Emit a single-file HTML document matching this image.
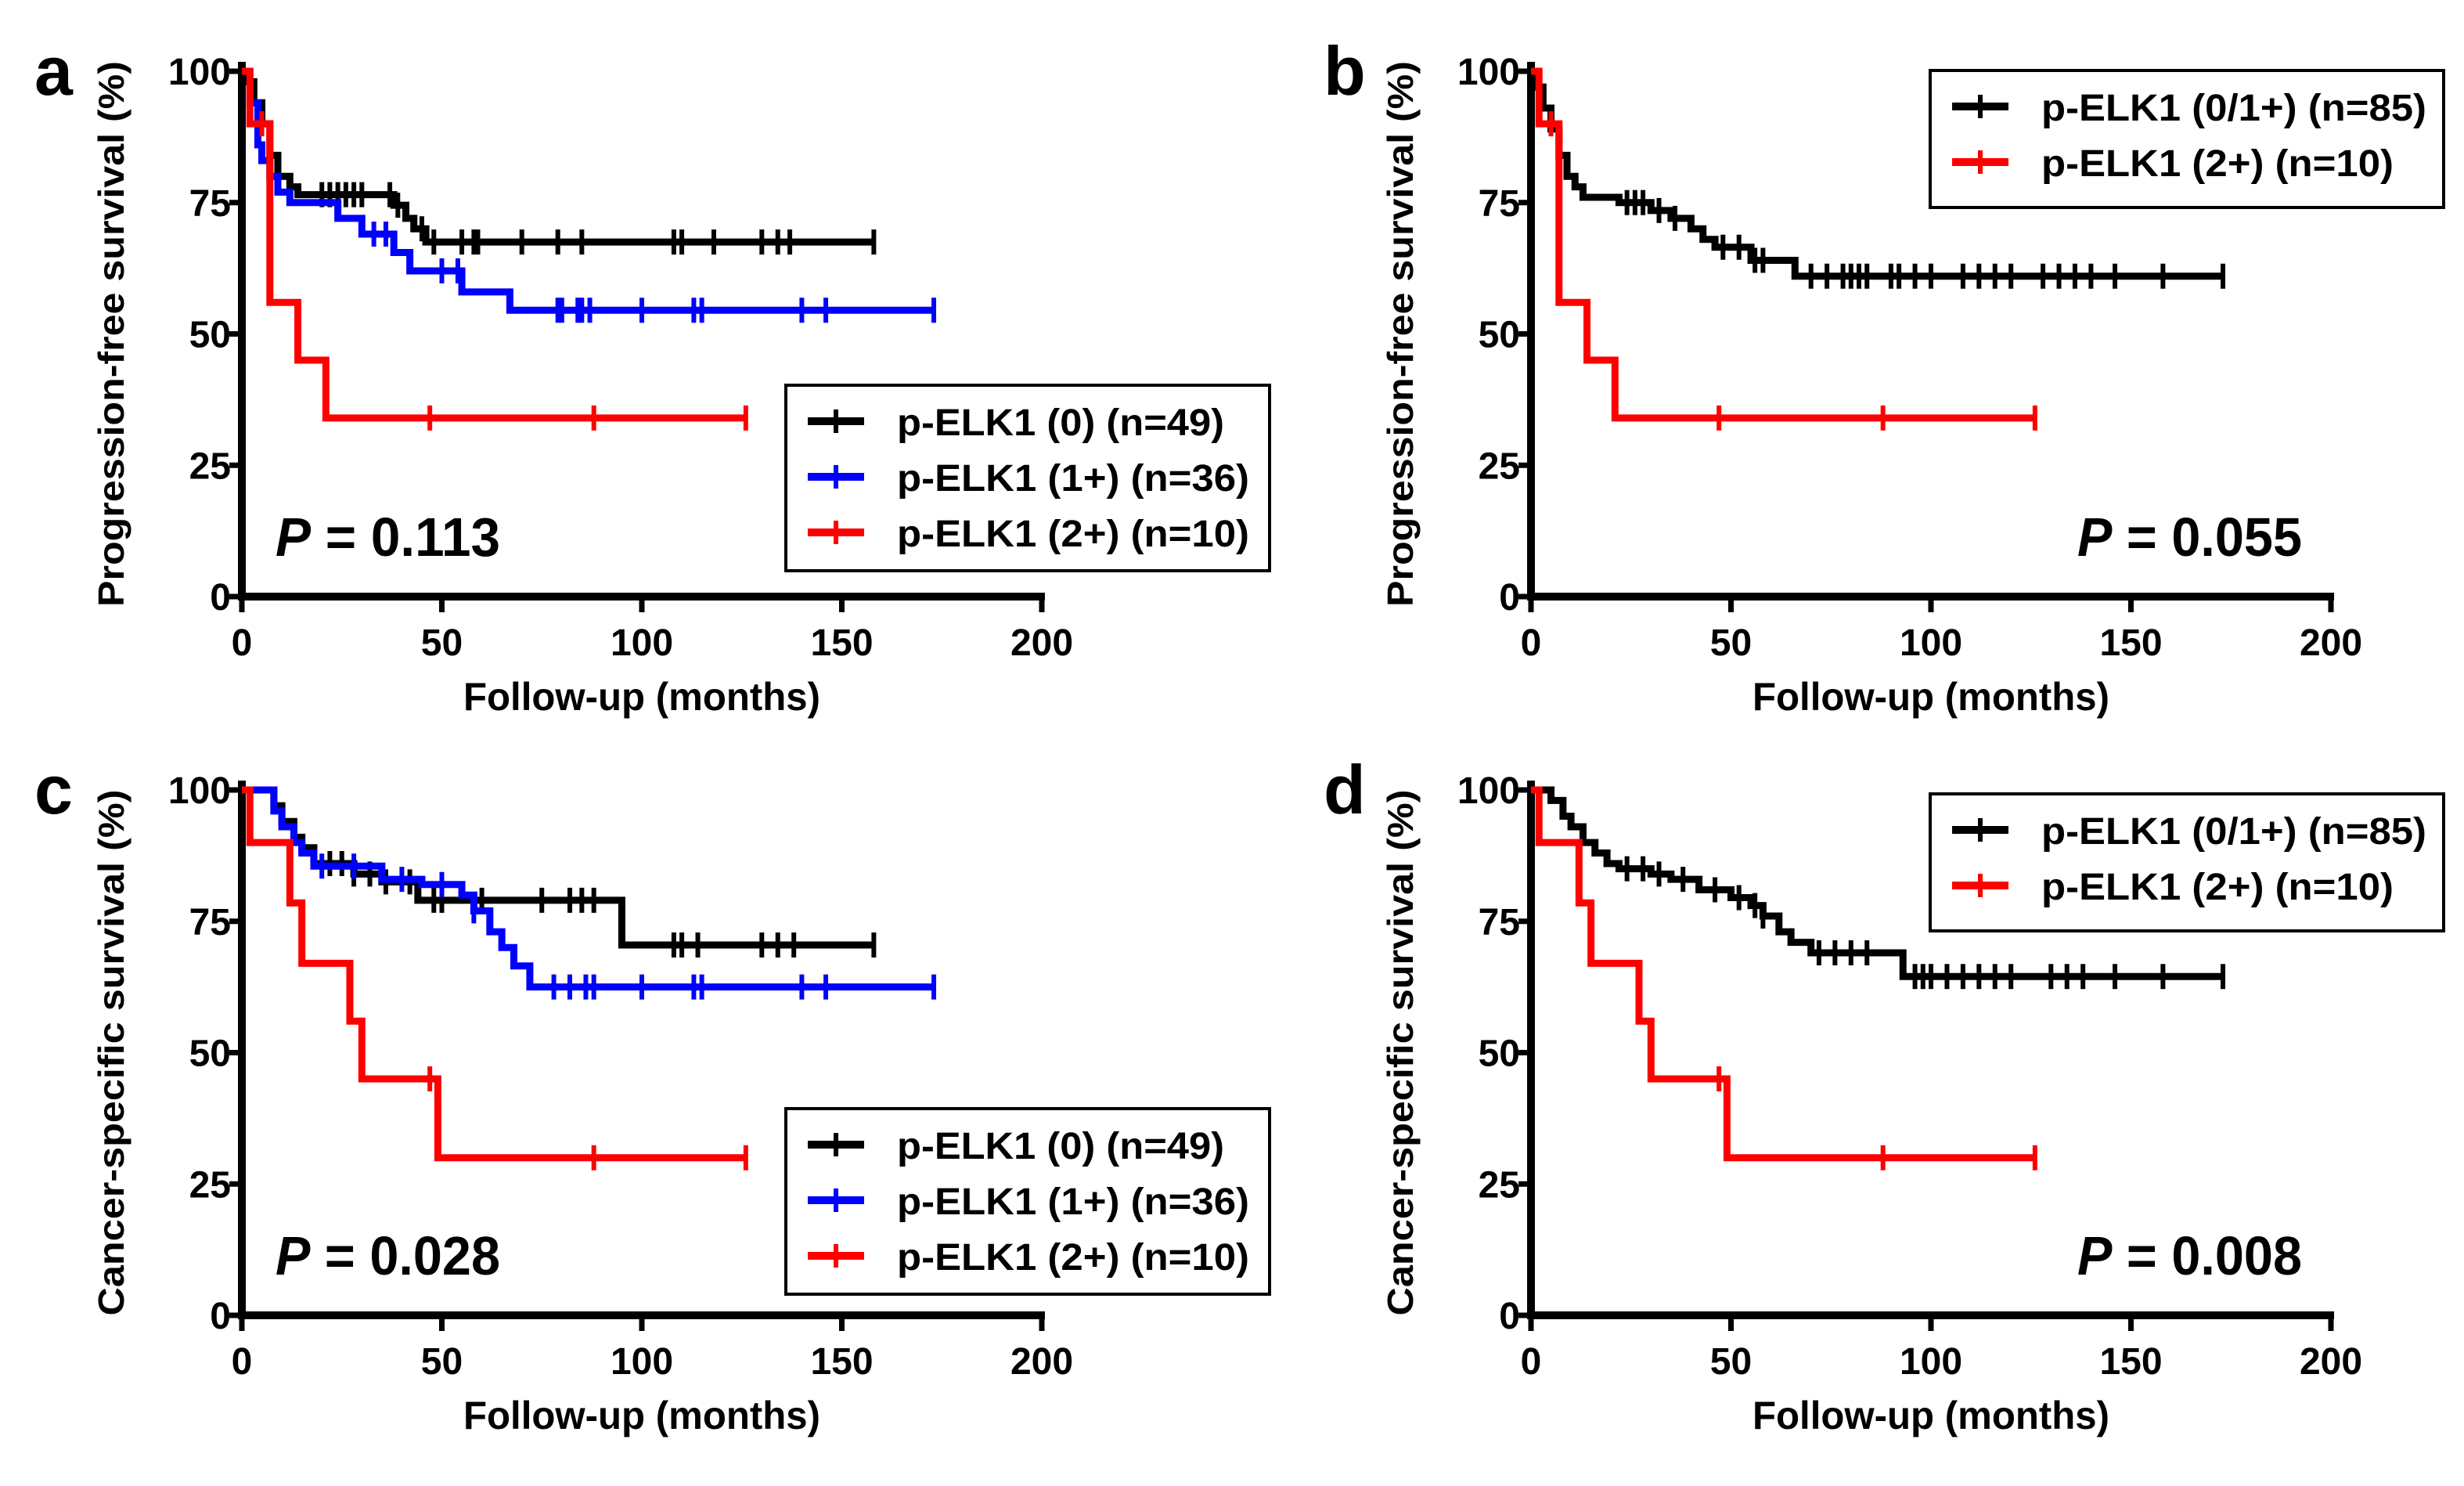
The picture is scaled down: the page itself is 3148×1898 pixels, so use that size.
<!DOCTYPE html>
<html><head><meta charset="utf-8"><style>
html,body{margin:0;padding:0;background:#fff}
svg{display:block}
text{font-family:"Liberation Sans Narrow","Liberation Sans",Arial,sans-serif;font-weight:bold;fill:#000}
</style></head><body>
<svg id="fig" width="3148" height="1898" viewBox="0 0 3148 1898" xmlns="http://www.w3.org/2000/svg"></svg>
<script>
// ---- data (months, survival %) ----
const xTicks = [0, 50, 100, 150, 200];
const yTicks = [0, 25, 50, 75, 100];
// Panel a (PFS)
const aBlackT = [0,1,3,5,7,9,12,14,38,41,43,46,158];
const aBlackS = [100,98,94,90,84,80,78,76.5,74.5,72,70,67.5,67.5];
const aBlackC = [20,22,24,26,28,30,37,39,45,48,55,58,59,70,79,85,108,110,118,130,134,137,158];
const aBlueT = [0,2,4,5,7,9,12,24,30,38,42,55,67,173];
const aBlueS = [100,94,86,83,80,77,75,72,69,65.5,62,58,54.5,54.5];
const aBlueC = [33,36,50,54,79,80,84,85,87,100,113,115,140,146,173];
const pfsRedT = [0,2,7,14,21,126];
const pfsRedS = [100,90,56,45,34,34];
const pfsRedC = [5,47,88,126];
// Panel b (PFS combined)
const bBlackT = [0,1,3,5,7,9,11,13,22,30,35,40,43,46,55,66,173];
const bBlackS = [100,97,93,89,84,80,78,76,75,73.5,72,70,68,66.5,64,61,61];
const bBlackC = [24,26,28,32,36,48,52,56,58,70,74,78,80,82,84,90,92,96,100,108,112,116,120,128,132,136,140,146,158,173];
// Panel c (CSS)
const cBlackT = [0,8,10,13,15,18,28,35,44,95,158];
const cBlackS = [100,97,94,91,89,86,84,82.5,79,70.5,70.5];
const cBlackC = [22,25,28,32,36,42,48,50,60,75,82,85,88,108,110,114,130,134,138,158];
const cBlueT = [0,8,10,13,15,18,35,45,55,58,62,65,68,72,173];
const cBlueS = [100,96,93,90,88,85.5,83,82,80,77,73,70,66.5,62.5,62.5];
const cBlueC = [20,28,40,50,58,78,82,86,88,100,113,115,140,146,173];
const cssRedT = [0,2,12,15,27,30,49,126];
const cssRedS = [100,90,78.5,67,56,45,30,30];
const cssRedC = [47,88,126];
// Panel d (CSS combined)
const dBlackT = [0,5,8,10,13,16,19,22,30,35,42,50,55,58,62,65,70,93,173];
const dBlackS = [100,98,95,93,90,88,86,85,84,83,81,79.5,78,76,73,71,69,64.5,64.5];
const dBlackC = [24,28,32,38,46,52,56,58,72,76,80,84,96,98,100,104,108,112,116,120,130,134,138,146,158,173];

const NS = "http://www.w3.org/2000/svg";
const svg = document.getElementById('fig');
function mk(tag, attrs, parent){const e=document.createElementNS(NS,tag);for(const k in attrs)e.setAttribute(k,attrs[k]);(parent||svg).appendChild(e);return e;}

function panel(cfg){
  const g = mk('g',{});
  
  
  const x0=cfg.x0, x1=cfg.x0+1022, y0=cfg.y0, y1=cfg.y0-671;
  const sx = v => x0 + v/200*(x1-x0);
  const sy = v => y0 - v/100*(y0-y1);
  const ax = mk('path',{d:`M${x0} ${y1-12} V${y0} H${x1+4}`,stroke:'#000','stroke-width':10,fill:'none'},g);
  
  
  yTicks.forEach(t=>{
    mk('line',{x1:x0-16,x2:x0,y1:sy(t),y2:sy(t),stroke:'#000','stroke-width':7},g);
    const tx=mk('text',{x:x0-14,y:sy(t)+17,'font-size':48,'text-anchor':'end'},g);
    tx.textContent=t;
    
    
  });
  xTicks.forEach(t=>{
    mk('line',{x1:sx(t),x2:sx(t),y1:y0,y2:y0+20,stroke:'#000','stroke-width':7},g);
    const tx=mk('text',{x:sx(t),y:y0+75,'font-size':48,'text-anchor':'middle'},g);
    tx.textContent=t;
    
    
  });
  const xt=mk('text',{x:(x0+x1)/2,y:y0+145,'font-size':50,'text-anchor':'middle',textLength:456,lengthAdjust:'spacingAndGlyphs'},g);
  xt.textContent='Follow-up (months)';
  
  
  const ycy=(y0+y1)/2, ycx=cfg.x0-167;
  const yt=mk('text',{x:ycx,y:ycy,'font-size':46,'text-anchor':'middle',transform:`rotate(-90 ${ycx} ${ycy}) translate(0 16)`,textLength:cfg.ylen,lengthAdjust:'spacingAndGlyphs'},g);
  yt.textContent=cfg.ytitle;
  
  
  const lt=mk('text',{x:cfg.x0-265,y:y1+30,'font-size':88},g);
  lt.textContent=cfg.letter;
  
  
  cfg.series.forEach(s=>{
    let d=`M${sx(s.t[0])} ${sy(s.s[0])}`;
    for(let i=1;i<s.t.length;i++){d+=` H${sx(s.t[i])} V${sy(s.s[i])}`;}
    const p=mk('path',{d:d,stroke:s.col,'stroke-width':9,fill:'none'},g);
    
    
    s.c.forEach(c=>{
      let v=s.s[0];
      for(let i=0;i<s.t.length;i++){if(s.t[i]<=c)v=s.s[i];}
      const m=mk('line',{x1:sx(c),x2:sx(c),y1:sy(v)-16,y2:sy(v)+16,stroke:s.col,'stroke-width':6},g);
      
      
    });
  });
  const L=cfg.legend;
  const lb=mk('rect',{x:L.x,y:L.y,width:L.w,height:L.h,fill:'#fff',stroke:'#000','stroke-width':4},g);
  
  
  cfg.series.forEach((s,i)=>{
    const ry=L.y+46+i*71;
    const ln=mk('line',{x1:L.x+28,x2:L.x+100,y1:ry,y2:ry,stroke:s.col,'stroke-width':10},g);
    
    
    mk('line',{x1:L.x+64,x2:L.x+64,y1:ry-15,y2:ry+15,stroke:s.col,'stroke-width':6},g);
    const t=mk('text',{x:L.x+142,y:ry+18,'font-size':48,textLength:s.lw,lengthAdjust:'spacingAndGlyphs'},g);
    t.textContent=s.label;
    
    
  });
  const pt=mk('text',{x:cfg.px,y:y0-52,'font-size':70,textLength:287,lengthAdjust:'spacingAndGlyphs'},g);
  const pi=mk('tspan',{'font-style':'italic'},pt); pi.textContent='P';
  const pr=mk('tspan',{},pt); pr.textContent=' = '+cfg.p;
  
  
}

const three=(b1,b2,r)=>[
 {name:'0',col:'#000',t:b1.t,s:b1.s,c:b1.c,label:'p-ELK1 (0) (n=49)',lw:418},
 {name:'1plus',col:'#0000ff',t:b2.t,s:b2.s,c:b2.c,label:'p-ELK1 (1+) (n=36)',lw:450},
 {name:'2plus',col:'#ff0000',t:r.t,s:r.s,c:r.c,label:'p-ELK1 (2+) (n=10)',lw:450}];
const two=(b,r)=>[
 {name:'0-1plus',col:'#000',t:b.t,s:b.s,c:b.c,label:'p-ELK1 (0/1+) (n=85)',lw:492},
 {name:'2plus',col:'#ff0000',t:r.t,s:r.s,c:r.c,label:'p-ELK1 (2+) (n=10)',lw:450}];

panel({letter:'a',x0:309,y0:762,ytitle:'Progression-free survival (%)',ylen:697,px:352,p:'0.113',
 legend:{x:1004,y:492,w:618,h:237},
 series:three({t:aBlackT,s:aBlackS,c:aBlackC},{t:aBlueT,s:aBlueS,c:aBlueC},{t:pfsRedT,s:pfsRedS,c:pfsRedC})});
panel({letter:'b',x0:1956,y0:762,ytitle:'Progression-free survival (%)',ylen:697,px:2654,p:'0.055',
 legend:{x:2466,y:90,w:656,h:175},
 series:two({t:bBlackT,s:bBlackS,c:bBlackC},{t:pfsRedT,s:pfsRedS,c:pfsRedC})});
panel({letter:'c',x0:309,y0:1680,ytitle:'Cancer-specific survival (%)',ylen:672,px:352,p:'0.028',
 legend:{x:1004,y:1416,w:618,h:237},
 series:three({t:cBlackT,s:cBlackS,c:cBlackC},{t:cBlueT,s:cBlueS,c:cBlueC},{t:cssRedT,s:cssRedS,c:cssRedC})});
panel({letter:'d',x0:1956,y0:1680,ytitle:'Cancer-specific survival (%)',ylen:672,px:2654,p:'0.008',
 legend:{x:2466,y:1014,w:656,h:175},
 series:two({t:dBlackT,s:dBlackS,c:dBlackC},{t:cssRedT,s:cssRedS,c:cssRedC})});
</script>
</body></html>
